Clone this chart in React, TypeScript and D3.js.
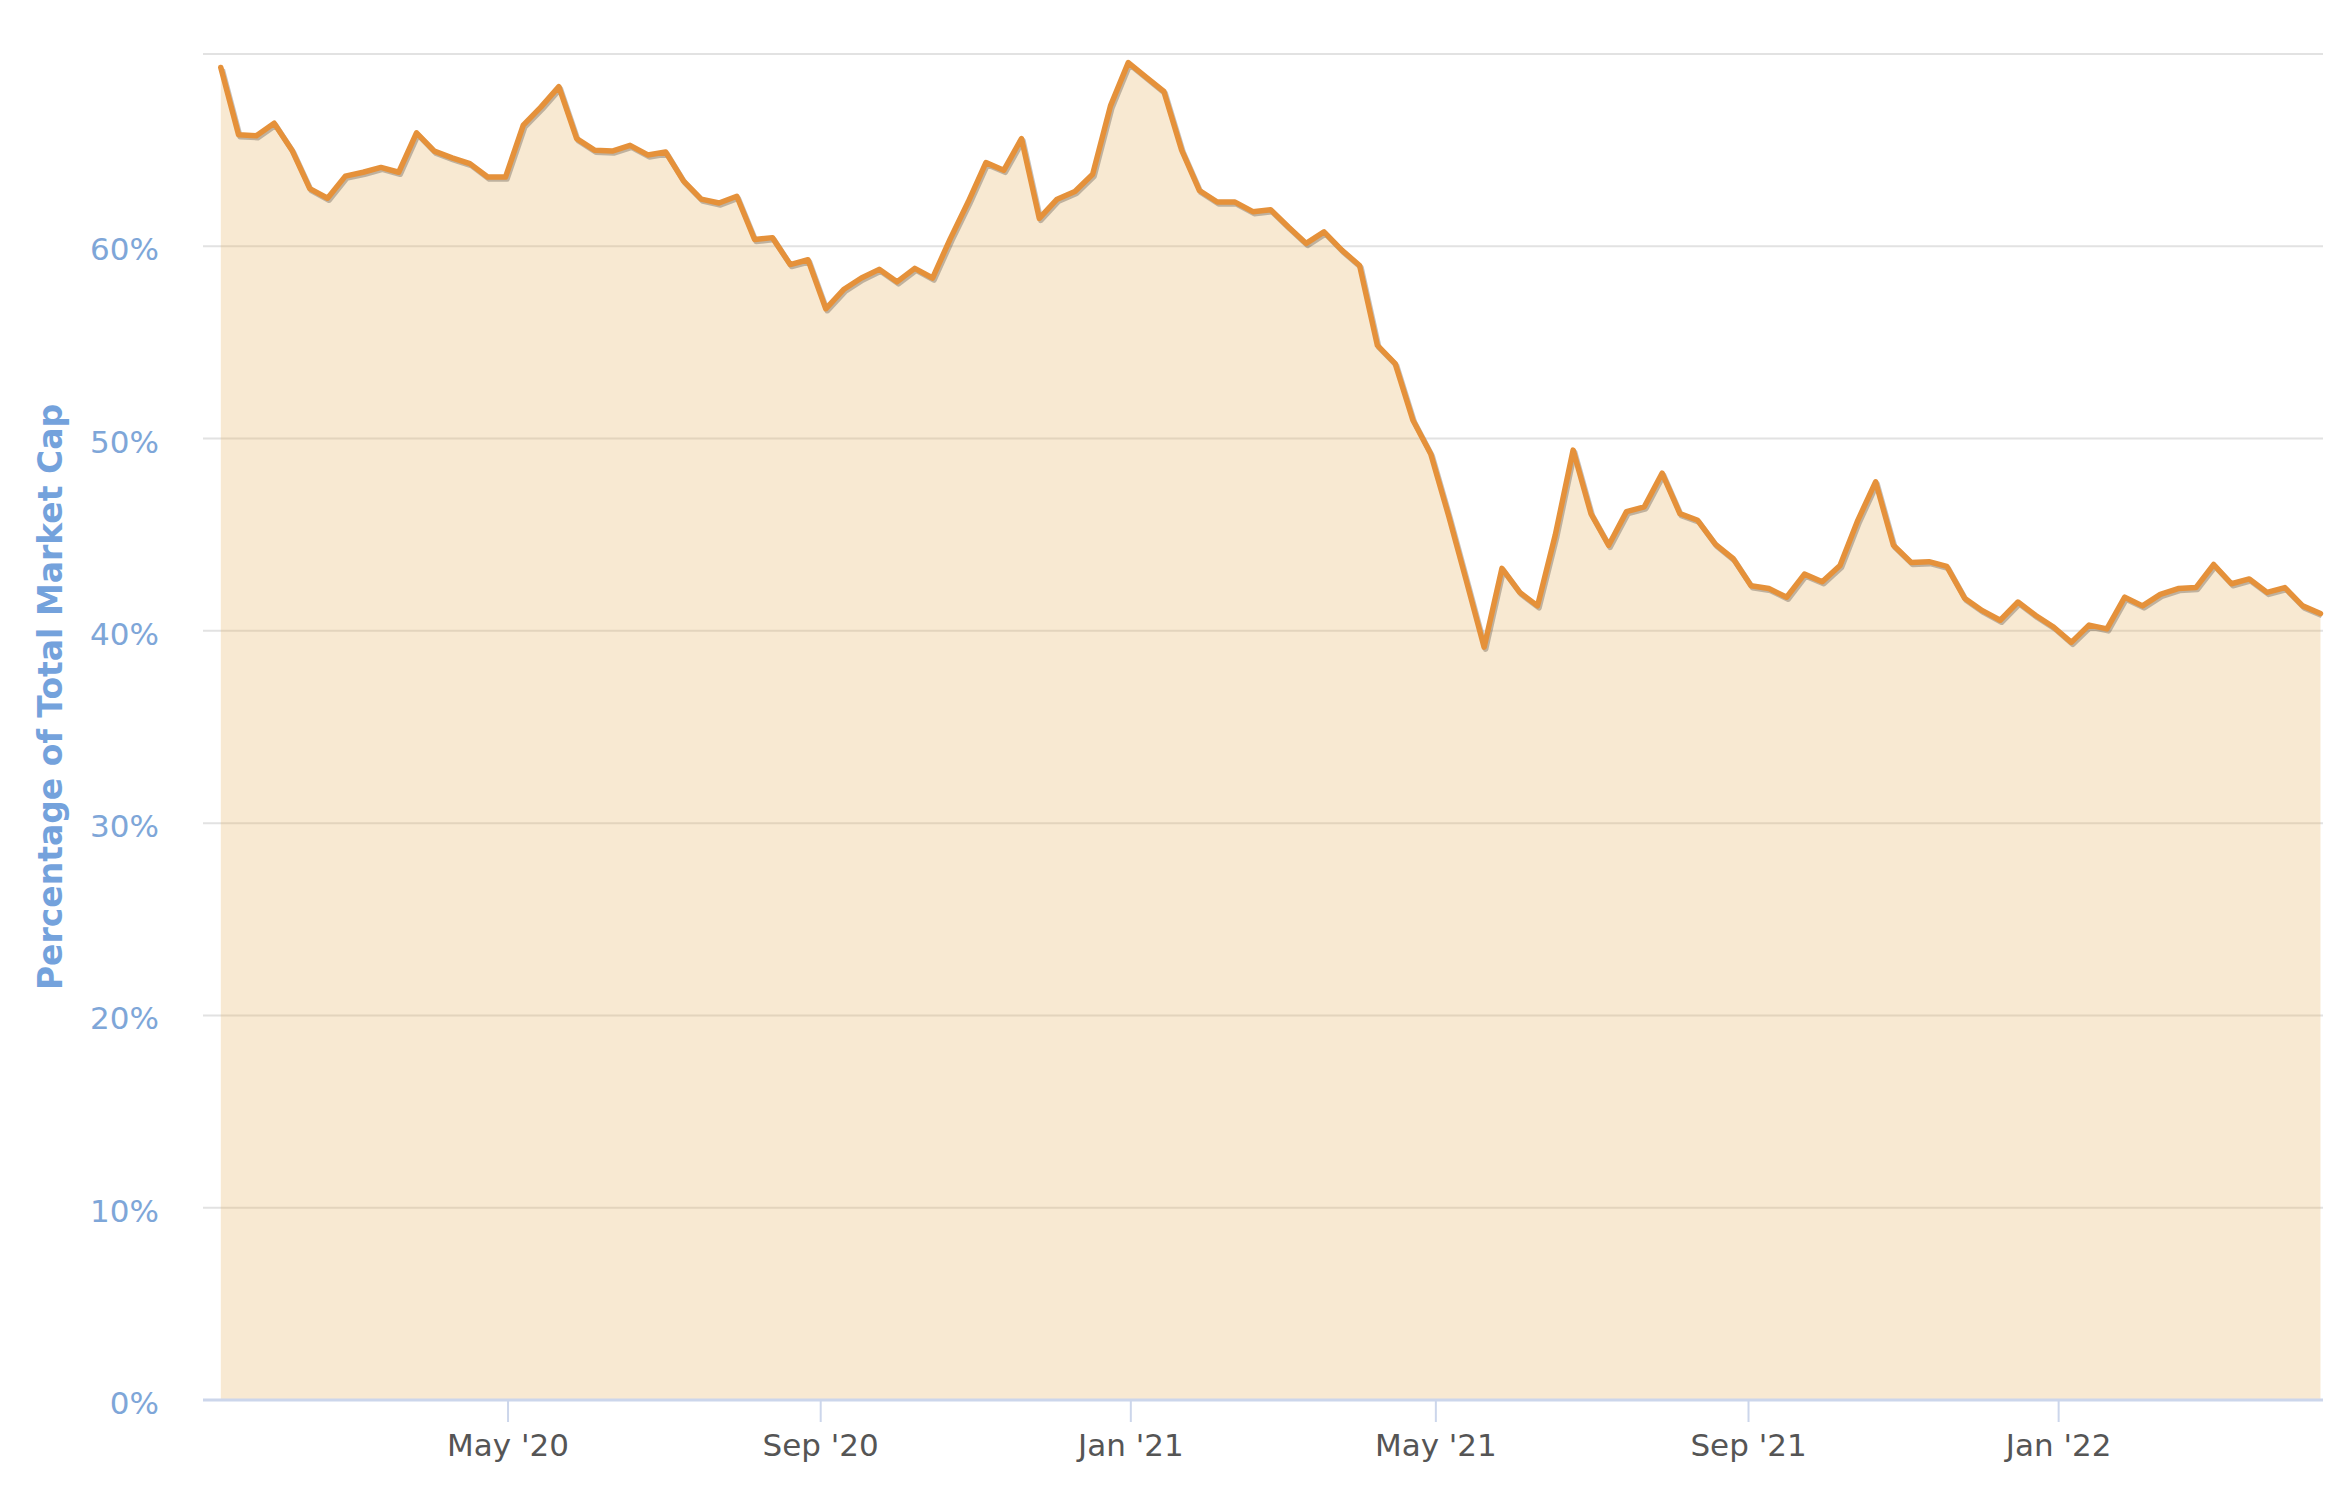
import React from 'react';
import * as d3 from 'd3';

// Weekly share of total crypto market cap (%), starting on START_DATE
const START_DATE = '2020-01-09';
const DOMINANCE = [
  69.3, 65.8, 65.75, 66.4, 65.0, 63.0, 62.5, 63.65, 63.85, 64.1,
  63.85, 65.9, 64.95, 64.6, 64.3, 63.6, 63.6, 66.3, 67.25, 68.3,
  65.6, 65.0, 64.95, 65.25, 64.75, 64.9, 63.4, 62.45, 62.25, 62.6,
  60.35, 60.45, 59.05, 59.3, 56.75, 57.75, 58.35, 58.8, 58.15, 58.85,
  58.35, 60.4, 62.3, 64.35, 63.95, 65.6, 61.45, 62.45, 62.85, 63.75,
  67.3, 69.55, 68.8, 68.05, 65.0, 62.9, 62.3, 62.3, 61.8, 61.9,
  61.0, 60.15, 60.75, 59.8, 59.0, 54.85, 53.9, 50.95, 49.2, 46.0,
  42.6, 39.15, 43.25, 42.0, 41.3, 45.0, 49.4, 46.1, 44.45, 46.2,
  46.45, 48.2, 46.1, 45.75, 44.5, 43.75, 42.35, 42.2, 41.75, 42.95,
  42.55, 43.4, 45.75, 47.75, 44.45, 43.55, 43.6, 43.35, 41.7, 41.05,
  40.55, 41.5, 40.8, 40.2, 39.4, 40.3, 40.1, 41.75, 41.3, 41.9,
  42.2, 42.25, 43.45, 42.45, 42.7, 42.0, 42.25, 41.3, 40.9,
];
const Y_TICKS = [0, 10, 20, 30, 40, 50, 60, 70];
const Y_TITLE = 'Percentage of Total Market Cap';

const W = 2336;
const H = 1488;
const PLOT_LEFT = 203;
const PLOT_RIGHT = 2323;
const PLOT_TOP = 54;
const PLOT_BOTTOM = 1400;

const FONT = '"DejaVu Sans", "Liberation Sans", sans-serif';

export default function App() {
  const parse = d3.timeParse('%Y-%m-%d');
  const start = parse(START_DATE) as Date;
  const data = DOMINANCE.map((v, i) => ({ date: d3.timeDay.offset(start, 7 * i), v }));
  const first = data[0].date;
  const last = data[data.length - 1].date;

  const x = d3
    .scaleTime()
    .domain([d3.timeDay.offset(first, -7), d3.timeDay.offset(last, 1)])
    .range([PLOT_LEFT, PLOT_RIGHT]);
  const y = d3.scaleLinear().domain([0, 70]).range([PLOT_BOTTOM, PLOT_TOP]);

  const xTicks = (d3.timeMonth.every(4) as d3.CountableTimeInterval).range(
    x.domain()[0],
    x.domain()[1]
  );
  const fmt = d3.timeFormat("%b '%y");

  const area = d3
    .area<{ date: Date; v: number }>()
    .x((d) => x(d.date))
    .y0(y(0))
    .y1((d) => y(d.v));
  const line = d3
    .line<{ date: Date; v: number }>()
    .x((d) => x(d.date))
    .y((d) => y(d.v));

  return (
    <svg
      width={W}
      height={H}
      style={{ position: 'absolute', left: 0, top: 0, background: '#fff' }}
    >
      <rect x={0} y={0} width={W} height={H} fill="#ffffff" />
      {/* grid lines */}
      {Y_TICKS.filter((t) => t !== 0).map((t) => (
        <line
          key={'g' + t}
          x1={PLOT_LEFT}
          x2={PLOT_RIGHT}
          y1={y(t)}
          y2={y(t)}
          stroke="#e2e2e2"
          strokeWidth={2}
        />
      ))}
      {/* area */}
      <path d={area(data) || ''} fill="rgb(230,176,95)" fillOpacity={0.28} />
      {/* x axis */}
      <line
        x1={PLOT_LEFT}
        x2={PLOT_RIGHT}
        y1={y(0)}
        y2={y(0)}
        stroke="#ccd6eb"
        strokeWidth={3}
      />
      {xTicks.map((d) => (
        <g key={d.toISOString()}>
          <line
            x1={x(d)}
            x2={x(d)}
            y1={y(0)}
            y2={y(0) + 22}
            stroke="#ccd6eb"
            strokeWidth={2}
          />
          <text
            x={x(d)}
            y={1456}
            textAnchor="middle"
            fontFamily={FONT}
            fontSize={31}
            fill="#555555"
          >
            {fmt(d)}
          </text>
        </g>
      ))}
      {/* y labels */}
      {Y_TICKS.filter((t) => t !== 70).map((t) => (
        <text
          key={'y' + t}
          x={159}
          y={y(t) + 14}
          textAnchor="end"
          fontFamily={FONT}
          fontSize={31}
          fill="#7ea6d8"
        >
          {t + '%'}
        </text>
      ))}
      <text
        transform={`translate(62, 697) rotate(-90)`}
        textAnchor="middle"
        fontFamily={FONT}
        fontSize={33}
        fontWeight="bold"
        fill="#74a2dc"
      >
        {Y_TITLE}
      </text>
      {/* line shadow */}
      <path
        d={line(data) || ''}
        fill="none"
        stroke="rgba(60,50,40,0.3)"
        strokeWidth={5.5}
        strokeLinejoin="round"
        transform="translate(1.5,2)"
      />
      <path
        d={line(data) || ''}
        fill="none"
        stroke="#e5913a"
        strokeWidth={5.5}
        strokeLinejoin="round"
        strokeLinecap="round"
      />
    </svg>
  );
}
